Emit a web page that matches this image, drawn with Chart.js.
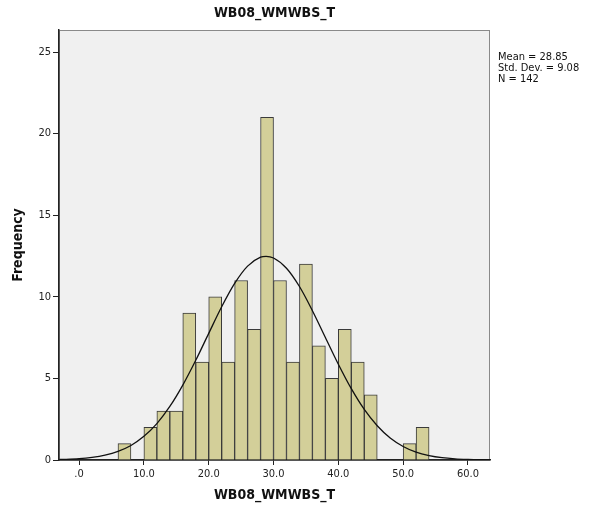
<!DOCTYPE html>
<html>
<head>
<meta charset="utf-8">
<script src="https://cdn.jsdelivr.net/npm/chart.js@4/dist/chart.umd.min.js"></script>
<style>
  html, body { margin: 0; padding: 0; background: #fff; }
  canvas { display: block; }
</style>
</head>
<body>
<canvas id="hist" width="590" height="514"></canvas>
<script>
// histogram bins (start of each 2-wide bin) and counts
const binStarts = [6, 8, 10, 12, 14, 16, 18, 20, 22, 24, 26, 28, 30, 32, 34, 36, 38, 40, 42, 44, 46, 48, 50, 52];
const counts    = [1, 0, 2, 3, 3, 9, 6, 10, 6, 11, 8, 21, 11, 6, 12, 7, 5, 8, 6, 4, 0, 0, 1, 2];
const binWidth = 2;

// normal curve
const curveX = [-3, 0, 2, 4, 6, 8, 10, 12, 14, 16, 18, 20, 22, 24, 26, 28, 28.85, 30, 32, 34, 36, 38, 40, 42, 44, 46, 48, 50, 52, 54, 56, 58, 60, 62, 63.5];
const curveY = [0.03, 0.08, 0.16, 0.30, 0.53, 0.89, 1.45, 2.23, 3.28, 4.59, 6.11, 7.76, 9.39, 10.82, 11.88, 12.43, 12.48, 12.38, 11.75, 10.63, 9.15, 7.51, 5.87, 4.37, 3.10, 2.10, 1.35, 0.83, 0.48, 0.27, 0.14, 0.07, 0.035, 0.016, 0.01];

const xTicks = [0, 10, 20, 30, 40, 50, 60];
const yTicks = [0, 5, 10, 15, 20, 25];
const stats = ['Mean = 28.85', 'Std. Dev. = 9.08', 'N = 142'];
const title = 'WB08_WMWBS_T';

const barData = binStarts.map((s, i) => ({ x: s + binWidth / 2, y: counts[i] || null }));
const lineData = curveX.map((x, i) => ({ x: x, y: curveY[i] }));

const frame = {
	id: 'frame',
	beforeDraw(chart) {
		const { ctx, chartArea: a } = chart;
		ctx.save();
		ctx.fillStyle = '#f0f0f0';
		ctx.fillRect(a.left, a.top, a.right - a.left, a.bottom - a.top);
		ctx.strokeStyle = '#8a8a8a';
		ctx.lineWidth = 1;
		ctx.strokeRect(a.left + 0.5, a.top + 0.5, a.right - a.left - 1, a.bottom - a.top);
		ctx.restore();
	},
	afterDraw(chart) {
		const { ctx, chartArea: a } = chart;
		ctx.save();
		ctx.fillStyle = '#111';
		ctx.textAlign = 'center';
		ctx.textBaseline = 'middle';
		ctx.font = 'bold 14px "DejaVu Sans Condensed", "DejaVu Sans", sans-serif';
		ctx.fillText(title, (a.left + a.right) / 2, 13);
		ctx.textAlign = 'left';
		ctx.font = '11px "DejaVu Sans Condensed", "DejaVu Sans", sans-serif';
		stats.forEach((s, i) => ctx.fillText(s, 498, 57 + i * 11));
		ctx.restore();
	}
};

const tickFont = { family: '"DejaVu Sans Condensed", "DejaVu Sans", sans-serif', size: 11 };
const titleFont = { family: '"DejaVu Sans Condensed", "DejaVu Sans", sans-serif', size: 14, weight: 'bold' };

new Chart(document.getElementById('hist'), {
	data: {
		datasets: [
			{
				type: 'line',
				data: lineData,
				borderColor: '#111',
				borderWidth: 1.3,
				pointRadius: 0,
				cubicInterpolationMode: 'monotone',
				fill: false,
				order: 0,
			},
			{
				type: 'bar',
				data: barData,
				backgroundColor: '#d3cf99',
				borderColor: '#3a3a3a',
				borderWidth: 1,
				borderSkipped: 'bottom',
				barPercentage: 1,
				categoryPercentage: 1,
				order: 1,
			},
		],
	},
	plugins: [frame],
	options: {
		responsive: false,
		animation: false,
		layout: { padding: { left: 0, top: 30, right: 100, bottom: 0 } },
		plugins: { legend: { display: false }, tooltip: { enabled: false } },
		scales: {
			x: {
				type: 'linear',
				min: -3.1,
				max: 63.4,
				offset: false,
				afterFit(s) { s.height = 54; },
				afterBuildTicks(s) { s.ticks = xTicks.map(v => ({ value: v })); },
				ticks: {
					color: '#222',
					font: tickFont,
					padding: 3,
					maxRotation: 0,
					autoSkip: false,
					callback: v => v === 0 ? '.0' : v.toFixed(1),
				},
				grid: { offset: false, drawOnChartArea: false, drawTicks: true, tickLength: 5, color: '#222' },
				border: { color: '#222', width: 1.5 },
				title: { display: true, text: title, font: titleFont, color: '#111', padding: { top: 0, bottom: 10 } },
			},
			y: {
				min: 0,
				max: 26.35,
				afterFit(s) { s.width = 59; },
				afterBuildTicks(s) { s.ticks = yTicks.map(v => ({ value: v })); },
				ticks: { color: '#222', font: tickFont, padding: 2, autoSkip: false },
				grid: { drawOnChartArea: false, drawTicks: true, tickLength: 6, color: '#222' },
				border: { color: '#222', width: 1.5 },
				title: { display: true, text: 'Frequency', font: titleFont, color: '#111', padding: { top: 10, bottom: 0 } },
			},
		},
	},
});
</script>
</body>
</html>
